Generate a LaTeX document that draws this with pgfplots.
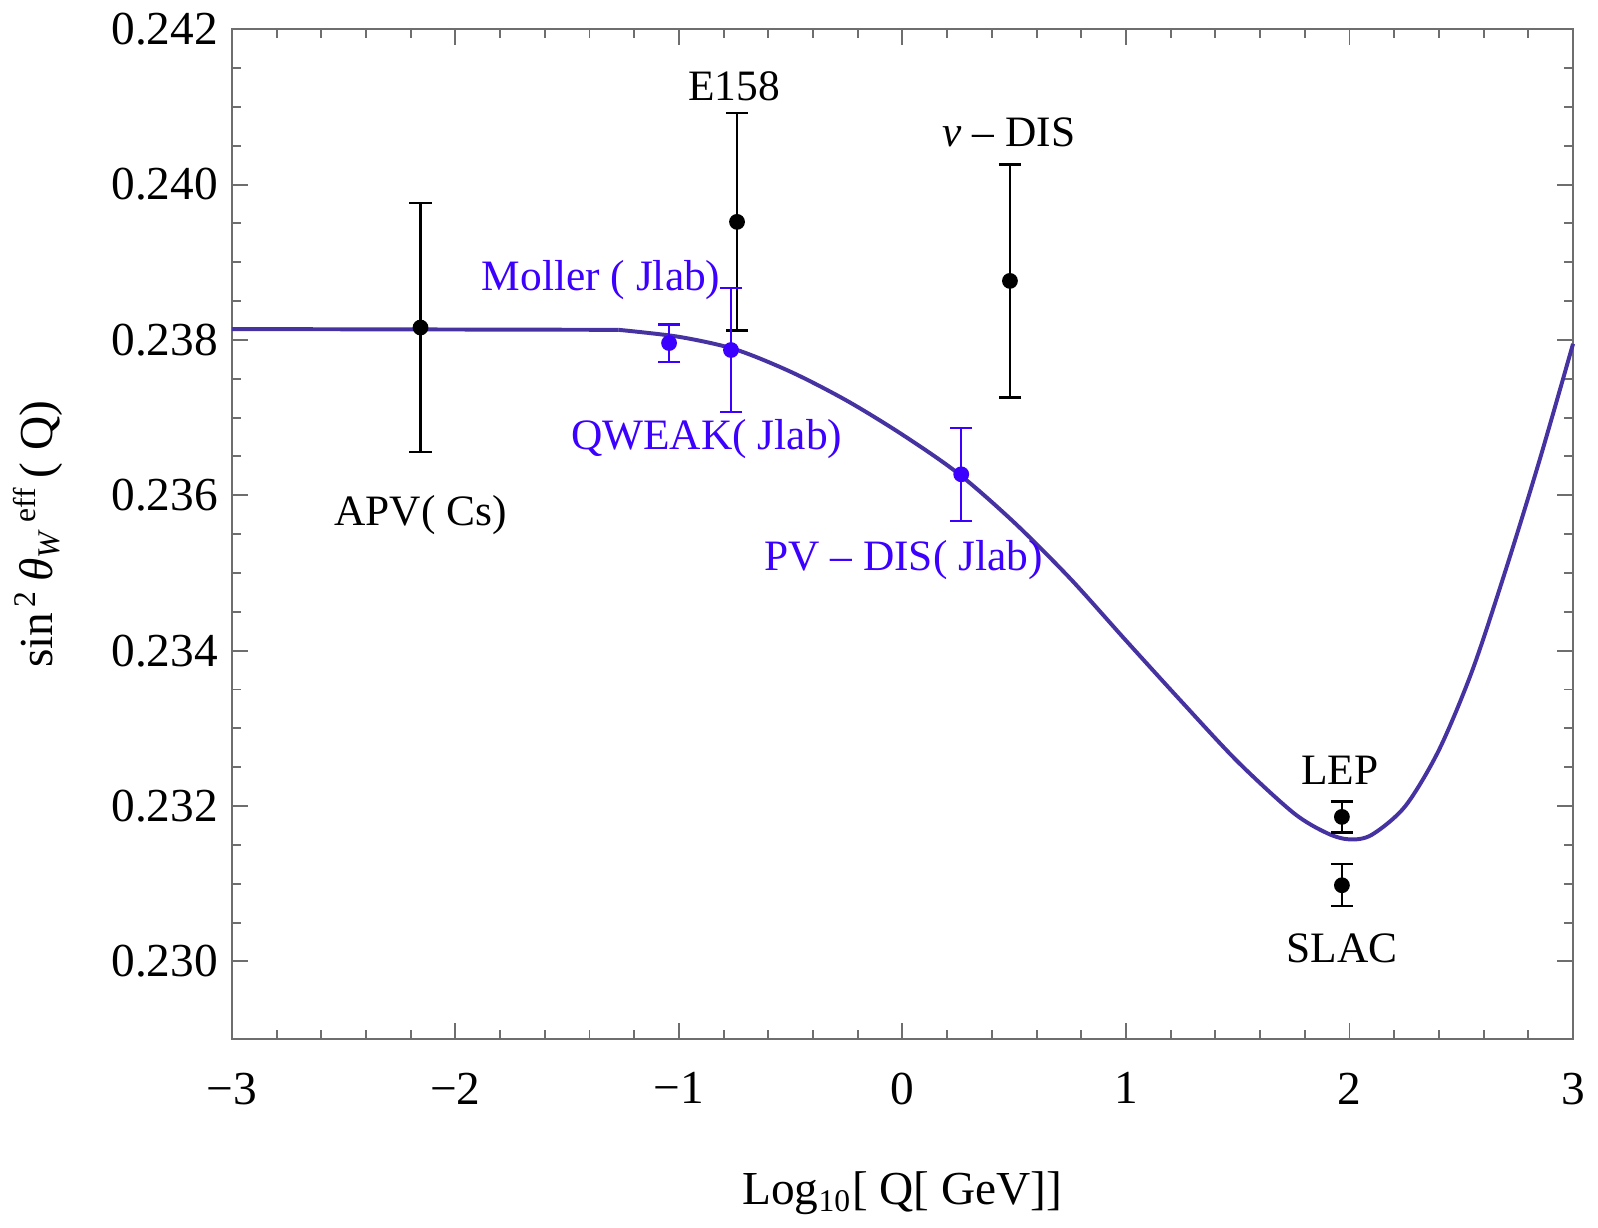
\documentclass[border=0pt]{standalone}
\usepackage{fontspec}
\setmainfont{Liberation Serif}
\usepackage{pgfplots}
\pgfplotsset{compat=1.18}
\definecolor{curve}{RGB}{70,50,160}
\definecolor{jblue}{RGB}{60,0,255}
\definecolor{axgray}{RGB}{110,110,110}

\begin{document}
\begin{tikzpicture}
\begin{axis}[
  scale only axis, width=340pt, height=256pt,
  xmin=-3, xmax=3, ymin=0.229, ymax=0.242,
  xtick={-3,-2,-1,0,1,2,3},
  xticklabels={−3,−2,−1,0,1,2,3},
  ytick={0.230,0.232,0.234,0.236,0.238,0.240,0.242},
  yticklabels={0.230,0.232,0.234,0.236,0.238,0.240,0.242},
  scaled y ticks=false,
  minor x tick num=4, minor y tick num=3,
  tick align=inside, major tick length=4pt, minor tick length=2.2pt,
  axis line style={axgray, line width=0.6pt},
  every tick/.style={axgray, line width=0.5pt},
  tick label style={font=\fontsize{12}{14}\selectfont},
  xticklabel style={yshift=-5pt},
  label style={font=\fontsize{12}{14}\selectfont},
  xlabel={Log\textsubscript{10}[ Q[ GeV]]},
  xlabel style={yshift=-10pt},
  ylabel={sin\textsuperscript{\,2}\,\textit{θ}\textsubscript{\textit{W}}\textsuperscript{\,eff}\,( Q)},
  ylabel style={yshift=5.5pt},
  clip=false,
]
% effective mixing angle curve
\addplot[curve, line width=1pt] coordinates {(-3,0.23814) (-1.27,0.23813)};
\addplot[curve, line width=1pt, smooth] coordinates {
  (-1.27,0.23813) (-1.0,0.23804) (-0.75,0.23788) (-0.5,0.23759)
  (-0.25,0.23722) (0.0,0.23678) (0.25,0.23628) (0.5,0.23565)
  (0.75,0.23493) (1.0,0.23413) (1.25,0.23334) (1.5,0.23257)
  (1.75,0.23191) (1.9,0.23165) (2.0,0.23157) (2.1,0.23163)
  (2.25,0.23200) (2.4,0.23272) (2.55,0.23375) (2.7,0.23505)
  (2.85,0.23645) (3.0,0.23795)};

% existing measurements
\addplot[black, only marks, mark=*, mark size=1.8pt,
  error bars/.cd, y dir=both, y explicit,
  error bar style={line width=0.6pt},
  error mark options={rotate=90, mark size=2.8pt, line width=0.6pt}]
  table[x=x, y=y, y error=e] {
x       y        e
-2.156  0.23816  0.00160
-0.740  0.23952  0.00140
0.481   0.23876  0.00150
1.966   0.23186  0.00020
1.966   0.23098  0.00027
};

% proposed Jlab measurements
\addplot[jblue, only marks, mark=*, mark size=1.8pt,
  error bars/.cd, y dir=both, y explicit,
  error bar style={line width=0.6pt},
  error mark options={rotate=90, mark size=2.8pt, line width=0.6pt}]
  table[x=x, y=y, y error=e] {
x       y        e
-1.044  0.23796  0.00024
-0.767  0.23787  0.00080
0.263   0.23627  0.00060
};

\begin{scope}[font=\fontsize{11}{13}\selectfont]
\node at (axis cs:-0.754,0.24126) {E158};
\node at (axis cs:0.477,0.24067) {\textit{ν} – DIS};
\node at (axis cs:-2.156,0.23574) {APV( Cs)};
\node at (axis cs:1.957,0.23246) {LEP};
\node at (axis cs:1.966,0.23017) {SLAC};
\node[jblue] at (axis cs:-1.348,0.23877) {Moller ( Jlab)};
\node[jblue] at (axis cs:-0.876,0.23672) {QWEAK( Jlab)};
\node[jblue] at (axis cs:0.005,0.23516) {PV – DIS( Jlab)};
\end{scope}
\end{axis}
\end{tikzpicture}
\end{document}
